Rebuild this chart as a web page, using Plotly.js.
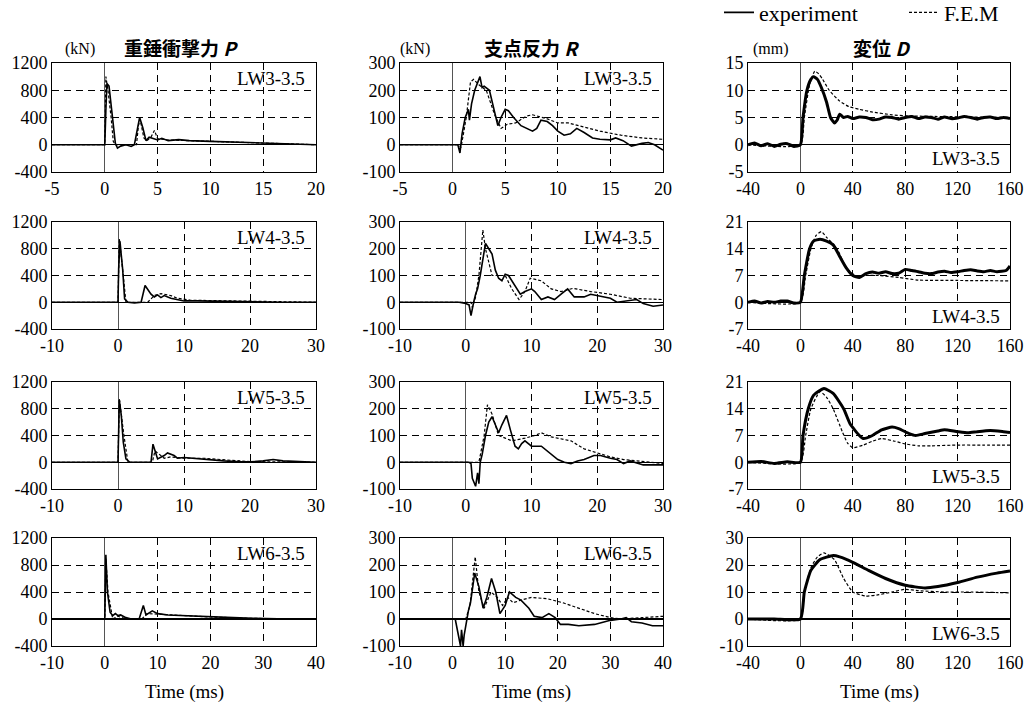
<!DOCTYPE html>
<html><head><meta charset="utf-8">
<script src="https://cdn.plot.ly/plotly-3.0.1.min.js"></script>
<style>html,body{margin:0;padding:0;background:#fff;overflow:hidden}#chart{width:1027px;height:706px}</style>
</head><body><div id="chart"></div>
<script>
// ---------- DATA ----------
// Row 1 : LW3-3.5
const P3_exp_t = [-5, 0, 0.1, 0.2, 0.4, 0.6, 1.0, 1.2, 1.5, 2.0, 2.5, 2.8, 3.0, 3.3, 3.6, 3.9, 4.2, 4.6, 5.0, 5.4, 6, 7, 8, 10, 12, 14, 16, 18, 20];
const P3_exp   = [0, 0, 500, 900, 860, 600, 20, -50, -20, 0, -25, 0, 150, 400, 250, 60, 110, 90, 70, 95, 60, 75, 60, 50, 40, 20, 10, 5, 0];
const P3_fem_t = [-5, 0, 0.1, 0.3, 0.6, 0.8, 1.0, 2.0, 3.0, 3.2, 3.4, 3.7, 4.0, 4.4, 4.7, 5.0, 5.5, 6, 8, 10, 12, 14, 16, 18, 20];
const P3_fem   = [0, 0, 1000, 800, 400, 50, 0, 0, 0, 300, 330, 100, 60, 120, 210, 90, 80, 70, 60, 50, 40, 30, 15, 5, 0];

const R3_exp_t = [-5, 0, 0.5, 0.7, 0.9, 1.2, 1.5, 1.6, 1.8, 2.1, 2.4, 2.6, 2.8, 3.0, 3.5, 4.0, 4.3, 4.6, 5.0, 5.3, 5.8, 6.5, 7.0, 7.6, 8.0, 8.4, 9.0, 9.5, 10.0, 10.6, 11.2, 11.8, 12.5, 13.3, 14.0, 15.0, 15.5, 16.2, 17.0, 17.5, 18.0, 18.6, 19.2, 20.0];
const R3_exp   = [0, 0, 0, -30, 40, 100, 130, 90, 150, 200, 230, 250, 210, 215, 200, 120, 70, 100, 130, 125, 100, 70, 60, 50, 60, 90, 85, 70, 50, 35, 40, 60, 45, 25, 20, 18, 25, 15, -5, 0, 5, 8, 0, -20];
const R3_fem_t = [-5, 0.6, 0.8, 1.3, 1.7, 2.0, 2.5, 3.2, 4.0, 4.6, 5.2, 6.0, 7.0, 7.6, 9.0, 10.0, 11.0, 12.0, 14.0, 16.0, 18.0, 20.0];
const R3_fem   = [0, 0, -10, 100, 230, 240, 220, 200, 110, 60, 75, 80, 105, 110, 95, 80, 80, 70, 50, 35, 25, 20];

const D3_exp_t = [-40, -35, -30, -25, -20, -15, -10, -5, 0, 2, 5, 8, 10, 13, 16, 20, 23, 26, 28, 30, 33, 36, 40, 45, 50, 55, 60, 65, 70, 75, 80, 85, 90, 95, 100, 105, 110, 115, 120, 125, 130, 135, 140, 145, 150, 155, 160];
const D3_exp   = [0, 0.3, -0.2, 0.2, -0.3, 0.1, 0.2, -0.3, 0, 5, 10, 12, 12.5, 12, 10.5, 7.8, 5, 4, 4.5, 5.6, 5, 5.2, 4.8, 5.1, 5, 4.6, 4.7, 5.1, 5, 4.7, 5, 5.2, 4.8, 5.1, 5, 4.7, 5.1, 4.8, 4.9, 5.2, 5, 4.7, 5, 5.1, 4.8, 5, 4.8];
const D3_fem_t = [-40, 0, 3, 7, 11, 14, 17, 22, 30, 37, 45, 55, 70, 80, 100, 160];
const D3_fem   = [0, 0, 5, 11, 13.5, 13, 12, 10, 8, 7, 6.5, 6, 5.5, 5.3, 5.2, 5];

// Row 2 : LW4-3.5
const P4_exp_t = [-10, 0, 0.1, 0.3, 0.5, 0.7, 1.0, 1.5, 2.5, 3.5, 4.1, 4.6, 5.0, 5.5, 6.0, 6.5, 7.0, 8.0, 9.0, 10, 12, 15, 18, 20, 25, 30];
const P4_exp   = [0, 0, 500, 910, 700, 500, 50, 0, -10, 0, 250, 170, 120, 80, 110, 70, 100, 60, 40, 20, 20, 15, 10, 5, 0, 0];
const P4_fem_t = [-10, 0, 0.2, 0.5, 0.8, 1.2, 4.5, 5.5, 6.5, 8, 9, 11, 14, 17, 20, 30];
const P4_fem   = [0, 0, 950, 700, 400, 0, 0, 100, 130, 100, 60, 30, 25, 20, 10, 0];

const R4_exp_t = [-10, -1, 0, 0.5, 0.8, 1.0, 1.2, 1.5, 1.8, 2.2, 2.5, 3.0, 3.5, 4.0, 4.5, 5.0, 5.5, 6.0, 6.5, 7.5, 8.3, 9.0, 10.0, 10.5, 11.5, 12.5, 13.5, 14.5, 15.5, 16.5, 18, 19, 21, 22, 23, 25, 26, 27, 28.5, 30];
const R4_exp   = [0, 0, -5, -10, -50, -20, 0, 30, 50, 100, 150, 220, 200, 180, 120, 90, 80, 105, 100, 60, 30, 40, 50, 40, 10, 20, 10, 30, 50, 20, 20, 30, 20, 15, 0, 5, 10, -5, -15, -10];
const R4_fem_t = [-10, 0.8, 1.0, 1.5, 2.0, 2.6, 3.0, 4.0, 5.0, 6.0, 7.0, 8.1, 9.0, 9.8, 11.5, 13.0, 14.5, 16.3, 19.0, 22.0, 25.0, 30.0];
const R4_fem   = [0, 0, -20, 20, 100, 270, 200, 100, 100, 100, 50, 10, 40, 90, 80, 50, 40, 52, 40, 30, 15, 10];

const D4_exp_t = [-40, -35, -30, -25, -20, -15, -10, -5, 0, 3, 7, 10, 15, 20, 25, 30, 35, 40, 45, 50, 55, 60, 65, 70, 75, 80, 85, 90, 95, 100, 105, 110, 115, 120, 125, 130, 135, 140, 145, 150, 157, 160];
const D4_exp   = [0, 0.3, -0.2, 0.2, 0, 0.3, 0.3, -0.2, 0, 7, 14, 16, 16.5, 16, 15, 12, 9, 7, 6.5, 7.5, 7.9, 7.6, 8.0, 7.5, 7.6, 8.6, 8.3, 8.0, 7.6, 7.5, 7.9, 8.1, 7.8, 8.0, 8.3, 8.5, 8.2, 8.0, 8.3, 8.0, 8.3, 9.5];
const D4_fem_t = [-40, 0, 4, 8, 12, 16, 20, 28, 35, 42, 50, 60, 75, 90, 120, 160];
const D4_fem   = [0, 0, 7, 14, 17.5, 18.5, 17, 14, 9, 7, 7, 7, 6.5, 5.8, 5.7, 5.6];

// Row 3 : LW5-3.5
const P5_exp_t = [-10, 0, 0.2, 0.5, 0.8, 1.2, 1.8, 5.0, 5.3, 6.0, 7.0, 7.5, 8.5, 9.0, 10, 12, 14, 16, 18, 20, 22, 23.5, 25, 30];
const P5_exp   = [0, 0, 930, 700, 300, 50, 0, 0, 270, 50, 100, 140, 100, 60, 70, 50, 40, 20, 10, 5, 20, 40, 20, 0];
const P5_fem_t = [-10, 0, 0.2, 0.5, 0.9, 1.5, 5.2, 5.6, 7, 8, 10, 13, 15, 17, 20, 23, 30];
const P5_fem   = [0, 0, 950, 700, 400, 0, 0, 170, 60, 80, 60, 60, 50, 30, 10, 10, 0];

const R5_exp_t = [-10, 0.5, 0.8, 1.0, 1.5, 1.8, 2.0, 2.2, 2.5, 3.0, 3.5, 4.0, 4.5, 5.0, 5.5, 6.2, 6.8, 7.5, 8.0, 8.5, 9.0, 10.0, 11.5, 12.5, 14, 15, 16, 17, 18, 19.5, 20.5, 22, 23, 24, 25, 27, 30];
const R5_exp   = [0, 0, -5, -60, -90, -40, -80, 0, 30, 100, 150, 170, 140, 110, 140, 175, 120, 60, 50, 70, 80, 60, 60, 40, 10, 0, -5, 5, 10, 25, 25, 15, 10, -5, 5, -10, -10];
const R5_fem_t = [-10, 2.0, 2.8, 3.3, 4.0, 5.0, 6.0, 7.0, 9.0, 10.5, 11.5, 13, 16, 18, 20, 22, 24, 26, 28, 30];
const R5_fem   = [0, 0, 100, 215, 180, 100, 90, 80, 90, 100, 110, 95, 80, 50, 35, 20, 10, 5, 0, -5];

const D5_exp_t = [-40, -30, -20, -10, 0, 2, 6, 10, 18, 25, 33, 38, 45, 48, 55, 62, 70, 75, 83, 88, 95, 105, 110, 120, 128, 135, 145, 155, 160];
const D5_exp   = [0, 0.2, -0.3, 0.1, 0, 7, 14, 17.5, 19.3, 18, 14, 10, 7, 6.2, 7, 8.5, 9.2, 8.8, 7.5, 7, 7.5, 8.2, 8.5, 8, 7.7, 8, 8.3, 8, 7.8];
const D5_fem_t = [-40, 0, 4, 8, 15, 20, 25, 32, 36, 40, 48, 55, 62, 72, 80, 90, 100, 120, 140, 160];
const D5_fem   = [0, 0, 7, 14, 18.5, 17, 14, 8, 5, 3.8, 4.5, 5.5, 6.2, 5.5, 4.8, 4.3, 4.3, 4.5, 4.5, 4.5];

// Row 4 : LW6-3.5
const P6_exp_t = [-10, 0, 0.2, 0.5, 1.0, 1.5, 2.0, 2.5, 3, 4, 5, 6.5, 7.3, 7.8, 9, 10, 12, 15, 18, 20, 25, 28, 35, 40];
const P6_exp   = [0, 0, 950, 400, 100, 50, 80, 50, 60, 20, 0, 0, 200, 60, 120, 80, 60, 50, 40, 30, 20, 10, 0, 0];
const P6_fem_t = [-10, 0, 0.2, 0.6, 1.5, 2.5, 4, 7, 8, 10, 13, 16, 20, 22, 27, 40];
const P6_fem   = [0, 0, 900, 400, 0, 40, 0, 0, 80, 70, 60, 40, 30, 25, 10, 0];

const R6_exp_t = [-10, 0.5, 1.0, 1.3, 1.5, 1.7, 2.0, 2.2, 2.5, 3.0, 3.4, 4.2, 5.0, 5.8, 6.5, 7.4, 8.2, 9.0, 10.0, 10.8, 12, 13, 14.5, 15.5, 17, 18.3, 19.5, 20.5, 22, 24, 27, 28, 30, 32, 33, 34, 36, 38, 40];
const R6_exp   = [0, 0, -50, -90, -100, -40, -100, -60, -20, 30, 60, 170, 120, 40, 80, 150, 100, 20, 50, 100, 80, 70, 40, 10, 5, 20, 5, -20, -20, -25, -20, -15, -5, 0, 5, -10, -15, -25, -25];
const R6_fem_t = [-10, 2.5, 3.3, 4.3, 5.0, 6.0, 7.3, 8.5, 9.5, 10.5, 11.5, 13, 15, 18, 21, 24, 27, 30, 32, 36, 40];
const R6_fem   = [0, 0, 50, 230, 100, 40, 100, 80, 50, 80, 60, 70, 80, 75, 60, 40, 20, 5, 0, 5, 10];

const D6_exp_t = [-40, -20, 0, 3, 8, 15, 25, 30, 40, 52, 65, 80, 95, 105, 120, 135, 150, 160];
const D6_exp   = [0, 0, 0, 10, 18, 22, 23.5, 23, 21, 18, 15, 12.5, 11.5, 12, 13.5, 15.5, 17, 17.8];
const D6_fem_t = [-40, 0, 3, 8, 13, 18, 26, 33, 40, 50, 60, 70, 80, 90, 110, 130, 160];
const D6_fem   = [0, 0, 10, 19, 23, 24.5, 22, 15, 10, 8.5, 9, 10, 11, 10.5, 10, 10, 9.7];

// Tick values
const forceTimeTicks = [[-5,0,5,10,15,20],[-10,0,10,20,30],[-10,0,10,20,30],[-10,0,10,20,30,40]];
const dispTimeTicks  = [-40,0,40,80,120,160];
const impactTicks    = [-400,0,400,800,1200];
const reactionTicks  = [-100,0,100,200,300];
const dispTicks      = [[-5,0,5,10,15],[-7,0,7,14,21],[-7,0,7,14,21],[-10,0,10,20,30]];
const specimens      = ['LW3-3.5','LW4-3.5','LW5-3.5','LW6-3.5'];
const colTitles      = ['<b>重錘衝撃力 <i>P</i></b>','<b>支点反力 <i>R</i></b>','<b>変位 <i>D</i></b>'];
const colUnits       = ['(kN)','(kN)','(mm)'];
const seriesNames    = ['experiment','F.E.M'];

// ---------- BUILD ----------
const W = 1027, H = 706;
const colsPx = [[52,316],[400,663],[748,1010]];
const rowsPx = [[63,172],[222,329],[382,489],[538,646]];
const panels = [
  [[P3_exp_t,P3_exp,P3_fem_t,P3_fem],[R3_exp_t,R3_exp,R3_fem_t,R3_fem],[D3_exp_t,D3_exp,D3_fem_t,D3_fem]],
  [[P4_exp_t,P4_exp,P4_fem_t,P4_fem],[R4_exp_t,R4_exp,R4_fem_t,R4_fem],[D4_exp_t,D4_exp,D4_fem_t,D4_fem]],
  [[P5_exp_t,P5_exp,P5_fem_t,P5_fem],[R5_exp_t,R5_exp,R5_fem_t,R5_fem],[D5_exp_t,D5_exp,D5_fem_t,D5_fem]],
  [[P6_exp_t,P6_exp,P6_fem_t,P6_fem],[R6_exp_t,R6_exp,R6_fem_t,R6_fem],[D6_exp_t,D6_exp,D6_fem_t,D6_fem]]
];
const SERIF = 'Liberation Serif';
function sf(size){ return {family: SERIF, size: size, color: '#000'}; }
const traces = [];
const layout = {
  width: W, height: H, margin: {l:0,r:0,t:0,b:0,pad:0,autoexpand:false},
  paper_bgcolor: '#fff', plot_bgcolor: '#fff',
  font: {family: SERIF, size: 18, color: '#000'},
  showlegend: true,
  legend: {orientation:'h', x: 719/W, y: 1.012, xanchor:'left', yanchor:'top',
           font: sf(22), bgcolor:'rgba(0,0,0,0)', itemwidth:30, traceorder:'normal',
           entrywidth: 140, entrywidthmode: 'pixels'},
  annotations: [], shapes: []
};
function axBase(){
  return {showline:true, mirror:true, linecolor:'#000', linewidth:1, ticks:'',
    showgrid:true, gridcolor:'#000', gridwidth:1, griddash:'7px,5px',
    zeroline:true, tickfont: sf(18), tickmode:'array', fixedrange:true, automargin:false};
}
for (let r=0;r<4;r++){
  for (let c=0;c<3;c++){
    const n = r*3+c+1;
    const xs = n===1?'':String(n);
    const d = panels[r][c];
    const isDisp = c===2;
    traces.push({x:d[0], y:d[1], xaxis:'x'+xs, yaxis:'y'+xs, type:'scatter', mode:'lines',
      name:seriesNames[0], showlegend:n===1, line:{color:'#000', width:isDisp?3:1.6, shape:isDisp?'spline':'linear', smoothing:0.5}});
    traces.push({x:d[2], y:d[3], xaxis:'x'+xs, yaxis:'y'+xs, type:'scatter', mode:'lines',
      name:seriesNames[1], showlegend:n===1, line:{color:'#000', width:1.2, dash:'3px,2px', shape:isDisp?'spline':'linear', smoothing:0.5}});
    const xt = isDisp ? dispTimeTicks : forceTimeTicks[r];
    const yt = c===0 ? impactTicks : (c===1 ? reactionTicks : dispTicks[r]);
    const xa = axBase();
    Object.assign(xa, {domain:[colsPx[c][0]/W, colsPx[c][1]/W], anchor:'y'+xs,
      range:[xt[0], xt[xt.length-1]], tickvals:xt, ticktext:xt.map(String),
      zerolinecolor:'#555', zerolinewidth:1});
    const ya = axBase();
    Object.assign(ya, {domain:[1-rowsPx[r][1]/H, 1-rowsPx[r][0]/H], anchor:'x'+xs,
      range:[yt[0], yt[yt.length-1]], tickvals:yt, ticktext:yt.map(String),
      zerolinecolor:'#000', zerolinewidth:1.3});
    layout['xaxis'+xs] = xa;
    layout['yaxis'+xs] = ya;
    layout.annotations.push({xref:'x'+xs+' domain', yref:'y'+xs+' domain',
      x:0.965, y: isDisp ? 0 : 0.97, yshift: isDisp ? 1.5 : 0, xanchor:'right', yanchor: isDisp ? 'bottom' : 'top',
      text: specimens[r], showarrow:false, font: sf(19), borderpad: isDisp ? 0 : 1,
      bgcolor: isDisp ? '#fff' : 'rgba(0,0,0,0)'});
  }
}
const titleX = [181, 532, 882];
const unitX  = [80, 415, 771];
for (let c=0;c<3;c++){
  layout.annotations.push({xref:'paper', yref:'paper', x:unitX[c]/W, y:1-49/H, xanchor:'center', yanchor:'middle',
    text: colUnits[c], showarrow:false, font: sf(16)});
  layout.annotations.push({xref:'paper', yref:'paper', x:titleX[c]/W, y:1-48/H, xanchor:'center', yanchor:'middle',
    text: colTitles[c], showarrow:false, font:{family:'Noto Sans CJK JP', size:19, color:'#000'}});
  layout.annotations.push({xref:'paper', yref:'paper', x:(colsPx[c][0]+colsPx[c][1])/2/W, y:1-692/H, xanchor:'center', yanchor:'middle',
    text: 'Time (ms)', showarrow:false, font: sf(19)});
}
Plotly.newPlot('chart', traces, layout, {displayModeBar:false, staticPlot:true});
</script></body></html>
